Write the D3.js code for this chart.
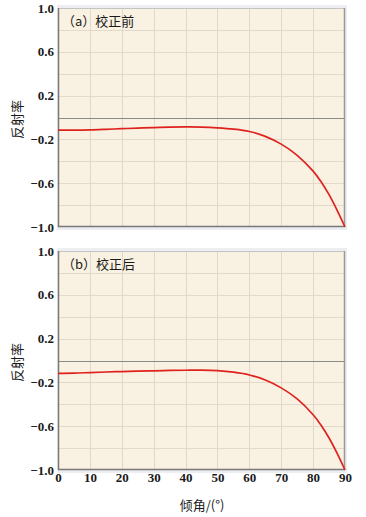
<!DOCTYPE html>
<html>
<head>
<meta charset="utf-8">
<script src="https://cdn.jsdelivr.net/npm/d3@7"></script>
<style>
  html, body { margin: 0; padding: 0; background: #ffffff; }
  svg { display: block; }
  .num { font-family: "Liberation Serif", "Times New Roman", serif; font-size: 13px; font-weight: bold; fill: #1a1a1a; }
  .cjk { font-family: "Noto Sans CJK SC", "Noto Sans", sans-serif; font-size: 13px; fill: #1a1a1a; }
</style>
</head>
<body>
<svg id="chart" width="366" height="517"></svg>
<script>
// ---- data ----
const angles = [0, 5, 10, 15, 20, 25, 30, 35, 40, 45, 50, 55, 60, 65, 70, 75, 80, 82.5, 85, 87.5, 90];
const reflectBefore = [-0.115, -0.115, -0.113, -0.108, -0.102, -0.097, -0.092, -0.088, -0.086, -0.087, -0.094, -0.106, -0.128, -0.172, -0.243, -0.345, -0.490, -0.587, -0.705, -0.845, -1.0];
const reflectAfter = [-0.117, -0.115, -0.110, -0.105, -0.101, -0.097, -0.094, -0.091, -0.089, -0.088, -0.093, -0.107, -0.132, -0.178, -0.250, -0.351, -0.495, -0.591, -0.708, -0.846, -1.0];
const panelTitles = ["（a）校正前", "（b）校正后"];
const yTickLabels = [1.0, 0.6, 0.2, -0.2, -0.6, -1.0];
const xTickLabels = [0, 10, 20, 30, 40, 50, 60, 70, 80, 90];
const yAxisTitle = "反射率";
const xAxisTitle = "倾角/(°)";

// ---- layout ----
const svg = d3.select("#chart");
const left = 58, right = 345;
const panelTops = [8, 251];
const panelH = 219;
const series = [reflectBefore, reflectAfter];

const x = d3.scaleLinear().domain([0, 90]).range([left, right]);

panelTops.forEach((top, i) => {
  const y = d3.scaleLinear().domain([-1, 1]).range([top + panelH, top]);
  const g = svg.append("g");

  // light frame around panel
  g.append("rect")
    .attr("x", left - 1).attr("y", top - 3)
    .attr("width", right - left + 3).attr("height", panelH + 6)
    .attr("fill", "#eceef2");

  // background
  g.append("rect")
    .attr("x", left).attr("y", top)
    .attr("width", right - left).attr("height", panelH)
    .attr("fill", "#f9f1e1");

  // grid lines
  const yGrid = d3.range(-0.8, 1.0, 0.2).map(v => +v.toFixed(1)).filter(v => v !== 0);
  g.selectAll(".hg").data(yGrid).enter().append("line")
    .attr("x1", left).attr("x2", right)
    .attr("y1", d => Math.round(y(d)) + 0.5).attr("y2", d => Math.round(y(d)) + 0.5)
    .attr("stroke", "#e4dacb").attr("stroke-width", 1);
  g.selectAll(".vg").data(xTickLabels.slice(1, -1)).enter().append("line")
    .attr("x1", d => Math.round(x(d)) + 0.5).attr("x2", d => Math.round(x(d)) + 0.5)
    .attr("y1", top).attr("y2", top + panelH)
    .attr("stroke", "#e2d8ca").attr("stroke-width", 1);

  // zero line
  g.append("line")
    .attr("x1", left).attr("x2", right)
    .attr("y1", Math.round(y(0)) + 0.5).attr("y2", Math.round(y(0)) + 0.5)
    .attr("stroke", "#8c8c86").attr("stroke-width", 1.2);

  // borders
  g.append("line").attr("x1", left).attr("x2", right).attr("y1", top + 0.5).attr("y2", top + 0.5)
    .attr("stroke", "#c4c4c4").attr("stroke-width", 1);
  g.append("line").attr("x1", right - 0.5).attr("x2", right - 0.5).attr("y1", top).attr("y2", top + panelH)
    .attr("stroke", "#9a9a9a").attr("stroke-width", 1.5);
  g.append("line").attr("x1", left).attr("x2", right).attr("y1", top + panelH - 0.5).attr("y2", top + panelH - 0.5)
    .attr("stroke", "#7a7a7a").attr("stroke-width", 1.5);
  g.append("line").attr("x1", left + 0.5).attr("x2", left + 0.5).attr("y1", top).attr("y2", top + panelH)
    .attr("stroke", "#7a7a7a").attr("stroke-width", 1.5);

  // curve
  const line = d3.line()
    .x((d, k) => x(angles[k]))
    .y(d => y(d))
    .curve(d3.curveCatmullRom.alpha(0.5));
  g.append("path")
    .datum(series[i])
    .attr("d", line)
    .attr("fill", "none")
    .attr("stroke", "#e0221e")
    .attr("stroke-width", 1.7);

  // y axis labels
  const yAxis = d3.axisLeft(y).tickValues(yTickLabels).tickSize(0).tickPadding(4)
    .tickFormat(d3.format(".1f"));
  const ya = g.append("g").attr("transform", `translate(${left},0)`).call(yAxis);
  ya.attr("font-family", null).attr("font-size", null);
  ya.select(".domain").remove();
  ya.selectAll("text").attr("class", "num").attr("fill", null);

  // panel title
  g.append("text")
    .attr("class", "cjk")
    .attr("x", 62).attr("y", top + 13).attr("dy", "0.35em")
    .text(panelTitles[i]);

  // y axis title
  g.append("text")
    .attr("class", "cjk")
    .attr("transform", `translate(17,${top + panelH / 2 + 2}) rotate(-90)`)
    .attr("text-anchor", "middle").attr("dy", "0.35em")
    .text(yAxisTitle);

  if (i === 1) {
    const xAxis = d3.axisBottom(x).tickValues(xTickLabels).tickSize(0).tickPadding(3)
      .tickFormat(d3.format("d"));
    const xa = g.append("g").attr("transform", `translate(0,${top + panelH})`).call(xAxis);
    xa.attr("font-family", null).attr("font-size", null);
    xa.select(".domain").remove();
    xa.selectAll("text").attr("class", "num").attr("fill", null);
  }
});

// x axis title
svg.append("text")
  .attr("class", "cjk")
  .attr("x", 202).attr("y", 505).attr("dy", "0.35em")
  .attr("text-anchor", "middle")
  .text(xAxisTitle);
</script>
</body>
</html>
